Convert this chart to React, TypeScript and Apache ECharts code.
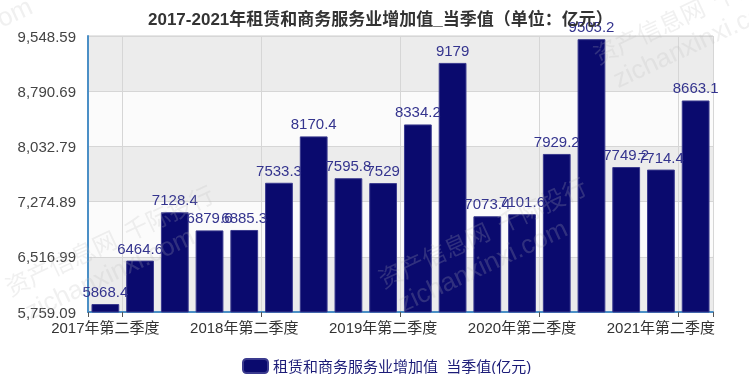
import React, { useEffect, useRef } from "react";
import * as echarts from "echarts";

const categories = [
  "2017年第二季度", "2017年第三季度", "2017年第四季度",
  "2018年第一季度", "2018年第二季度", "2018年第三季度", "2018年第四季度",
  "2019年第一季度", "2019年第二季度", "2019年第三季度", "2019年第四季度",
  "2020年第一季度", "2020年第二季度", "2020年第三季度", "2020年第四季度",
  "2021年第一季度", "2021年第二季度", "2021年第三季度",
];
const values = [
  5868.4, 6464.6, 7128.4,
  6879.6, 6885.3, 7533.3, 8170.4,
  7595.8, 7529, 8334.2, 9179,
  7073.4, 7101.6, 7929.2, 9505.2,
  7749.2, 7714.4, 8663.1,
];
const yMin = 5759.09;
const yMax = 9548.59;
const yStep = 757.9;
const seriesName = "租赁和商务服务业增加值_当季值(亿元)";
const titleText = "2017-2021年租赁和商务服务业增加值_当季值（单位：亿元）";
const watermark1 = "资产信息网  千际投行";
const watermark2 = "zichanxinxi.com";

const FONT = "'Liberation Sans', 'Noto Sans CJK SC', sans-serif";

export default function App() {
  const ref = useRef<HTMLDivElement>(null);
  useEffect(() => {
    if (!ref.current) return;
    const chart = echarts.init(ref.current, undefined, { renderer: "svg" });
    const wmColor = "rgba(185,185,185,0.22)";
    const wm = (x: number, y: number) => ({
      type: "group",
      x,
      y,
      rotation: (25 * Math.PI) / 180,
      silent: true,
      z: 100,
      children: [
        { type: "text", z: 100, x: 0, y: -26, style: { text: watermark1, fill: wmColor, font: "24px 'Noto Sans CJK SC'" } },
        { type: "text", z: 100, x: 8, y: 4, style: { text: watermark2, fill: wmColor, font: "26px 'Liberation Sans'" } },
      ],
    });
    chart.setOption({
      animation: false,
      textStyle: { fontFamily: FONT },
      title: {
        text: titleText,
        left: 143,
        top: 6,
        textStyle: { fontSize: 17, fontWeight: "bold", color: "#333", fontFamily: FONT },
      },
      legend: {
        data: [seriesName],
        left: 237,
        top: 353,
        itemWidth: 25,
        itemHeight: 14,
        icon: "roundRect",
        textStyle: { fontSize: 15, color: "#1c1c78", fontFamily: FONT },
      },
      grid: { left: 88, right: 36, top: 36, bottom: 62, show: true, borderColor: "#ccc", borderWidth: 1, backgroundColor: "transparent" },
      xAxis: {
        type: "category",
        data: categories,
        boundaryGap: true,
        axisLine: { show: true, lineStyle: { color: "#4b8fc6", width: 2 } },
        axisTick: { show: true, interval: (i: number) => i === 0 || i % 4 === 1, lineStyle: { color: "#555" } },
        axisLabel: { interval: 3, fontSize: 15, color: "#333", margin: 8, fontFamily: FONT },
        splitLine: { show: true, interval: (i: number) => i % 4 === 1, lineStyle: { color: "#d6d6d6" } },
      },
      yAxis: {
        type: "value",
        min: yMin,
        max: yMax,
        interval: yStep,
        axisLine: { show: true, lineStyle: { color: "#4b8fc6", width: 2 } },
        axisTick: { show: false },
        axisLabel: {
          fontSize: 15,
          color: "#444",
          margin: 12,
          fontFamily: FONT,
          formatter: (v: number) => v.toLocaleString("en-US", { minimumFractionDigits: 2, maximumFractionDigits: 2 }),
        },
        splitLine: { show: true, lineStyle: { color: "#d6d6d6" } },
        splitArea: { show: true, areaStyle: { color: ["#ececec", "#fbfbfb"] } },
      },
      series: [
        {
          name: seriesName,
          type: "bar",
          data: values,
          barCategoryGap: "20%",
          z: 2,
          itemStyle: { color: "#0a0a6e", borderColor: "#3a3a8e", borderWidth: 1 },
          label: { show: true, position: "top", fontSize: 15, color: "#34348e", fontFamily: FONT },
        },
      ],
      graphic: [
        wm(12, 300),
        wm(385, 292),
        wm(600, 68),
        wm(-150, 70),
      ],
    });
    return () => chart.dispose();
  }, []);
  return <div ref={ref} style={{ position: "fixed", left: 0, top: 0, width: 749, height: 374 }} />;
}
